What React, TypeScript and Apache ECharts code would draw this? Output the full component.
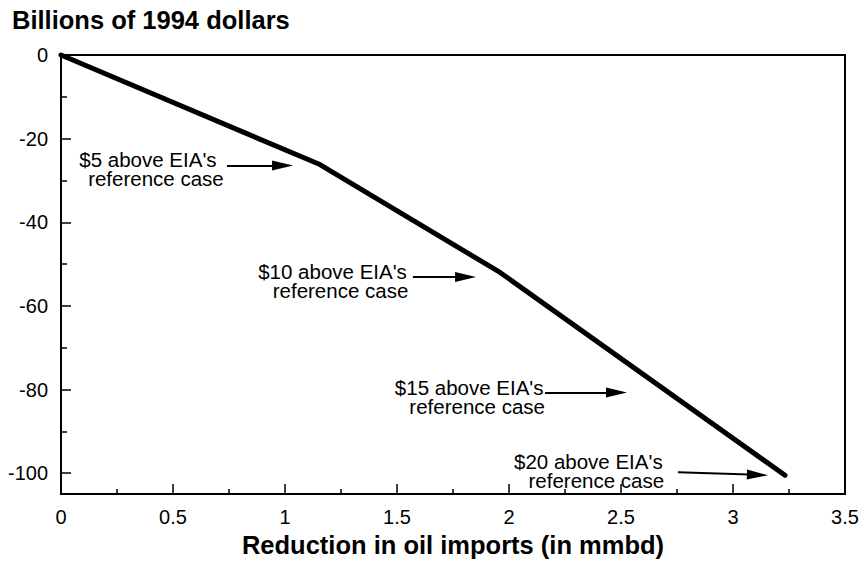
import React, { useEffect, useRef } from "react";
import * as echarts from "echarts";

// Line data: reduction in oil imports (mmbd) vs cost (billions of 1994 dollars)
const xValues = [0, 1.156, 1.96, 3.232];
const yValues = [0, -26.2, -52.0, -100.5];

// Axis ticks
const yTicks = [0, -20, -40, -60, -80, -100];
const yMinorTicks = [-10, -30, -50, -70, -90];

// Annotation texts and their anchors (block centres) in data units
const labelTop = ["$5 above EIA's", "$10 above EIA's", "$15 above EIA's", "$20 above EIA's"];
const labelBottom = ["reference case", "reference case", "reference case", "reference case"];
const labelX = [0.406, 1.23, 1.84, 2.372];
const labelY = [-27.25, -53.95, -81.75, -99.4];

// Arrows: start / end (arrowhead centre) in data units
const arrowX0 = [0.741, 1.571, 2.161, 2.754];
const arrowX1 = [0.989, 1.806, 2.48, 3.109];
const arrowY0 = [-26.4, -53.1, -80.7, -99.8];
const arrowY1 = [-26.4, -53.1, -80.7, -100.4];

const FONT = "'Liberation Sans', Arial, Helvetica, sans-serif";

export default function App() {
  const ref = useRef<HTMLDivElement>(null);

  useEffect(() => {
    document.body.style.margin = "0";
    const chart = echarts.init(ref.current!, null, { renderer: "svg" });

    const lineData = xValues.map((x, i) => [x, yValues[i]]);
    const arrows = arrowX0.map((x0, i) => [
      { coord: [x0, arrowY0[i]] },
      { coord: [arrowX1[i], arrowY1[i]] },
    ]);
    const points = labelTop.map((t, i) => ({
      name: t,
      value: labelBottom[i],
      coord: [labelX[i], labelY[i]],
      label: { formatter: `{a|${t}}\n{b|${labelBottom[i]}}` },
    }));

    chart.setOption({
      animation: false,
      textStyle: { fontFamily: FONT },
      title: {
        text: "Billions of 1994 dollars",
        left: 7,
        top: 2,
        textStyle: { fontSize: 25.5, fontWeight: "bold", color: "#000", fontFamily: FONT },
      },
      grid: {
        left: 61,
        top: 55,
        right: 21,
        bottom: 68,
        show: true,
        borderColor: "#000",
        borderWidth: 2,
        backgroundColor: "transparent",
      },
      xAxis: {
        type: "value",
        min: 0,
        max: 3.5,
        interval: 0.5,
        name: "Reduction in oil imports (in mmbd)",
        nameLocation: "middle",
        nameGap: 32,
        nameTextStyle: { fontSize: 25.5, fontWeight: "bold", color: "#000", fontFamily: FONT },
        axisLine: { show: true, onZero: false, lineStyle: { color: "#000", width: 2 } },
        axisTick: { show: true, inside: true, length: 10, lineStyle: { color: "#000", width: 1.5 } },
        minorTick: { show: true, splitNumber: 2, length: 5, lineStyle: { color: "#000", width: 1.5 } },
        axisLabel: { fontSize: 20, color: "#000", margin: 13, fontFamily: FONT },
        splitLine: { show: false },
        minorSplitLine: { show: false },
      },
      yAxis: [
        {
          type: "value",
          min: -105,
          max: 0,
          position: "left",
          axisLine: { show: true, onZero: false, lineStyle: { color: "#000", width: 2 } },
          axisTick: {
            show: true,
            inside: true,
            length: 10,
            customValues: yTicks,
            lineStyle: { color: "#000", width: 1.5 },
          },
          axisLabel: {
            fontSize: 20,
            color: "#000",
            margin: 13,
            customValues: yTicks,
            fontFamily: FONT,
          },
          splitLine: { show: false },
        },
        {
          type: "value",
          min: -105,
          max: 0,
          position: "left",
          offset: 0,
          axisLine: { show: false, onZero: false },
          axisTick: {
            show: true,
            inside: true,
            length: 6,
            customValues: yMinorTicks,
            lineStyle: { color: "#000", width: 1.5 },
          },
          axisLabel: { show: false },
          splitLine: { show: false },
        },
      ],
      series: [
        {
          type: "line",
          data: lineData,
          symbol: "none",
          clip: false,
          lineStyle: { color: "#000", width: 5, cap: "round", join: "round" },
          markLine: {
            silent: true,
            symbol: ["none", "triangle"],
            symbolSize: [10, 21],
            precision: 4,
            lineStyle: { color: "#000", width: 2, type: "solid" },
            label: { show: false },
            data: arrows,
          },
          markPoint: {
            silent: true,
            symbol: "circle",
            symbolSize: 0,
            itemStyle: { color: "transparent" },
            label: {
              show: true,
              position: "inside",
              align: "center",
              color: "#000",
              fontSize: 20.5,
              lineHeight: 19,
              fontFamily: FONT,
              rich: {
                a: {
                  fontSize: 20.5,
                  lineHeight: 19,
                  color: "#000",
                  fontFamily: FONT,
                  padding: [0, 8, 0, 0],
                },
                b: {
                  fontSize: 20.5,
                  lineHeight: 19,
                  color: "#000",
                  fontFamily: FONT,
                  padding: [0, 0, 0, 8],
                },
              },
            },
            data: points,
          },
        },
      ],
    });

    return () => chart.dispose();
  }, []);

  return <div ref={ref} style={{ width: 866, height: 563 }} />;
}
